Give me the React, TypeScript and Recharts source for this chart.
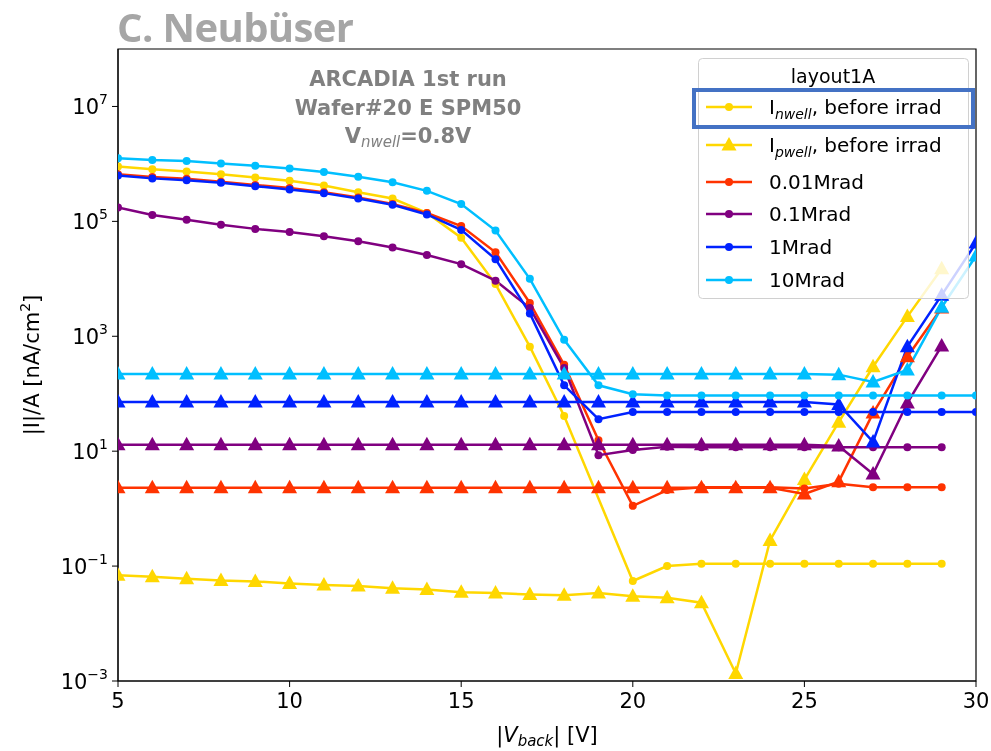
import { LineChart, Line, XAxis, YAxis, ReferenceArea } from 'recharts'

// back voltage steps
const V29 = [5, 6, 7, 8, 9, 10, 11, 12, 13, 14, 15, 16, 17, 18, 19, 20, 21, 22, 23, 24, 25, 26, 27, 28, 29]
const V30 = [...V29, 30]
// the before-irrad nwell scan has no point at 19 V
const Vpre = V29.filter((v) => v !== 19)

// I_nwell / A  [nA/cm^2]
const nwellPre = [9.0e5, 8.1e5, 7.4e5, 6.6e5, 5.8e5, 5.1e5, 4.2e5, 3.2e5, 2.5e5, 1.4e5, 5.2e4, 8.1e3, 660, 41, 0.055, 0.1, 0.11, 0.11, 0.11, 0.11, 0.11, 0.11, 0.11, 0.11]
const nwell001 = [6.6e5, 5.9e5, 5.5e5, 4.9e5, 4.3e5, 3.8e5, 3.2e5, 2.6e5, 2.0e5, 1.4e5, 8.3e4, 2.9e4, 3800, 320, 15.5, 1.12, 2.1, 2.35, 2.35, 2.35, 2.25, 2.7, 2.35, 2.35, 2.35]
const nwell01 = [1.74e5, 1.29e5, 1.07e5, 8.7e4, 7.4e4, 6.5e4, 5.5e4, 4.5e4, 3.5e4, 2.6e4, 1.8e4, 9300, 3100, 280, 8.5, 10.5, 12, 11.7, 11.7, 11.7, 11.7, 11.7, 11.7, 11.7, 11.7]
const nwell1 = [6.3e5, 5.6e5, 5.2e5, 4.7e5, 4.1e5, 3.6e5, 3.1e5, 2.5e5, 1.95e5, 1.32e5, 7.1e4, 2.2e4, 2500, 140, 36, 48, 48, 48, 48, 48, 48, 48, 48, 48, 48, 48]
const nwell10 = [1.26e6, 1.17e6, 1.12e6, 1.02e6, 9.3e5, 8.3e5, 7.2e5, 6.0e5, 4.8e5, 3.4e5, 2.0e5, 6.9e4, 1.0e4, 870, 140, 98, 93, 93, 93, 93, 93, 93, 93, 93, 93, 93]

// I_pwell / A  [nA/cm^2]
const pwellPre = [0.069, 0.065, 0.06, 0.056, 0.054, 0.05, 0.047, 0.045, 0.041, 0.039, 0.035, 0.034, 0.032, 0.031, 0.034, 0.03, 0.028, 0.023, 0.00135, 0.28, 3.2, 32, 295, 2200, 15000]
const pwell001 = [2.3, 2.3, 2.3, 2.3, 2.3, 2.3, 2.3, 2.3, 2.3, 2.3, 2.3, 2.3, 2.3, 2.3, 2.3, 2.3, 2.3, 2.3, 2.3, 2.3, 1.8, 2.95, 46, 440, 3100]
const pwell01 = [13, 13, 13, 13, 13, 13, 13, 13, 13, 13, 13, 13, 13, 13, 13, 13, 13, 13, 13, 13, 13, 12.3, 4.0, 69, 680]
const pwell1 = [72, 72, 72, 72, 72, 72, 72, 72, 72, 72, 72, 72, 72, 72, 72, 72, 72, 72, 72, 72, 72, 65, 14.5, 660, 5200, 4.2e4]
const pwell10 = [220, 220, 220, 220, 220, 220, 220, 220, 220, 220, 220, 220, 220, 220, 220, 220, 220, 220, 220, 220, 220, 215, 160, 260, 3200, 2.5e4]

const yTicks = [1e-3, 1e-1, 1e1, 1e3, 1e5, 1e7]
const xTicks = [5, 10, 15, 20, 25, 30]

const GOLD = '#ffd700'
const RED = '#ff3300'
const PURPLE = '#800080'
const BLUE = '#0022ff'
const SKY = '#00bfff'

const toRows = (xs: number[], ys: number[]) => xs.map((v, i) => ({ v, y: ys[i] }))

const series = [
  { key: 'nPre', xs: Vpre, ys: nwellPre, color: GOLD, tri: false },
  { key: 'pPre', xs: V29, ys: pwellPre, color: GOLD, tri: true },
  { key: 'n001', xs: V29, ys: nwell001, color: RED, tri: false },
  { key: 'p001', xs: V29, ys: pwell001, color: RED, tri: true },
  { key: 'n01', xs: V29, ys: nwell01, color: PURPLE, tri: false },
  { key: 'p01', xs: V29, ys: pwell01, color: PURPLE, tri: true },
  { key: 'n1', xs: V30, ys: nwell1, color: BLUE, tri: false },
  { key: 'p1', xs: V30, ys: pwell1, color: BLUE, tri: true },
  { key: 'n10', xs: V30, ys: nwell10, color: SKY, tri: false },
  { key: 'p10', xs: V30, ys: pwell10, color: SKY, tri: true },
]

const legendItems = [
  { label: 'nwell', color: GOLD, tri: false },
  { label: 'pwell', color: GOLD, tri: true },
  { label: '0.01Mrad', color: RED, tri: false },
  { label: '0.1Mrad', color: PURPLE, tri: false },
  { label: '1Mrad', color: BLUE, tri: false },
  { label: '10Mrad', color: SKY, tri: false },
]
const legendRows = [99, 137, 174, 206, 239, 272]

const FONT = 'DejaVu Sans, sans-serif'

const triPath = (cx: number, cy: number) => `M${cx},${cy - 8} L${cx + 7.5},${cy + 5.5} L${cx - 7.5},${cy + 5.5} Z`

const triDot = (color: string) => (p: any) => (
  <path key={p.key ?? `${p.cx}-${p.cy}`} d={triPath(p.cx, p.cy)} fill={color} stroke="none" />
)

const YTick = ({ x, y, payload }: any) => {
  const e = Math.round(Math.log10(payload.value))
  const s = e < 0 ? '\u2212' + Math.abs(e) : String(e)
  return (
    <text x={x} y={y + 8} textAnchor="end" fontSize={21} fontFamily={FONT} fill="#000">
      10<tspan dy={-10} fontSize={14}>{s}</tspan>
    </text>
  )
}

export default function App() {
  return (
    <div style={{ position: 'fixed', left: 8, top: 8, width: 983, height: 743, fontFamily: FONT }}>
      <LineChart width={983} height={743} margin={{ top: 41, right: 15, bottom: 28, left: 30 }}>
        <XAxis
          dataKey="v"
          type="number"
          domain={[5, 30]}
          ticks={xTicks}
          allowDataOverflow
          stroke="#000"
          tickSize={6}
          height={42}
          tick={{ fill: '#000', fontSize: 21, fontFamily: FONT }}
          tickMargin={6}
          label={() => (
            <text x={539} y={734} textAnchor="middle" fontSize={21} fontFamily={FONT} fill="#000">
              |<tspan fontStyle="italic">V</tspan>
              <tspan fontStyle="italic" fontSize={15} dy={4}>back</tspan>
              <tspan dy={-4}>| [V]</tspan>
            </text>
          )}
        />
        <YAxis
          scale="log"
          type="number"
          domain={[1e-3, 1e8]}
          ticks={yTicks}
          allowDataOverflow
          width={80}
          stroke="#000"
          tickSize={6}
          tickMargin={4}
          tick={<YTick />}
          label={() => (
            <text x={31} y={357} transform="rotate(-90, 31, 357)" textAnchor="middle" fontSize={21} fontFamily={FONT} fill="#000">
              |I|/A [nA/cm<tspan dy={-9} fontSize={14}>2</tspan>
              <tspan dy={9}>]</tspan>
            </text>
          )}
        />
        <ReferenceArea x1={5} x2={30} y1={1e-3} y2={1e8} fill="none" stroke="#000" strokeWidth={1.2} ifOverflow="visible" />
        {series.map((s) => (
          <Line
            key={s.key}
            data={toRows(s.xs, s.ys)}
            dataKey="y"
            type="linear"
            stroke={s.color}
            strokeWidth={2.5}
            dot={s.tri ? triDot(s.color) : { r: 4, fill: s.color, stroke: 'none' }}
            activeDot={false}
            isAnimationActive={false}
          />
        ))}
      </LineChart>

      <div style={{ position: 'absolute', left: 109, top: -9, fontFamily: 'Open Sans, sans-serif', fontWeight: 700, fontSize: 40, color: '#a6a6a6', letterSpacing: -0.6 }}>
        C. Neubüser
      </div>

      <div style={{ position: 'absolute', left: 250, top: 57, width: 300, textAlign: 'center', fontWeight: 'bold', fontSize: 21, color: '#808080', lineHeight: '28.5px' }}>
        <div>ARCADIA 1st run</div>
        <div>Wafer#20 E SPM50</div>
        <div>
          V<sub style={{ fontStyle: 'italic', fontWeight: 'normal', fontSize: 15, verticalAlign: '-4px' }}>nwell</sub>=0.8V
        </div>
      </div>

      <svg width={983} height={743} style={{ position: 'absolute', left: 0, top: 0, pointerEvents: 'none' }}>
        <rect x={690.5} y={50.5} width={270} height={240} rx={4} fill="rgba(255,255,255,0.8)" stroke="#d0d0d0" />
        <text x={825} y={75} textAnchor="middle" fontSize={19} fontFamily={FONT} fill="#000">layout1A</text>
        {legendItems.map((it, i) => {
          const cy = legendRows[i]
          return (
            <g key={it.label}>
              <line x1={698} y1={cy} x2={744} y2={cy} stroke={it.color} strokeWidth={2.5} />
              {it.tri ? <path d={triPath(721, cy)} fill={it.color} /> : <circle cx={721} cy={cy} r={4} fill={it.color} />}
              <text x={761} y={cy + 7} fontSize={20} fontFamily={FONT} fill="#000">
                {i < 2 ? (
                  <>
                    I<tspan fontStyle="italic" fontSize={14} dy={5}>{it.label}</tspan>
                    <tspan dy={-5}>, before irrad</tspan>
                  </>
                ) : (
                  it.label
                )}
              </text>
            </g>
          )
        })}
        <rect x={686} y={82} width={279} height={37} fill="none" stroke="#4472c4" strokeWidth={4} />
      </svg>
    </div>
  )
}
